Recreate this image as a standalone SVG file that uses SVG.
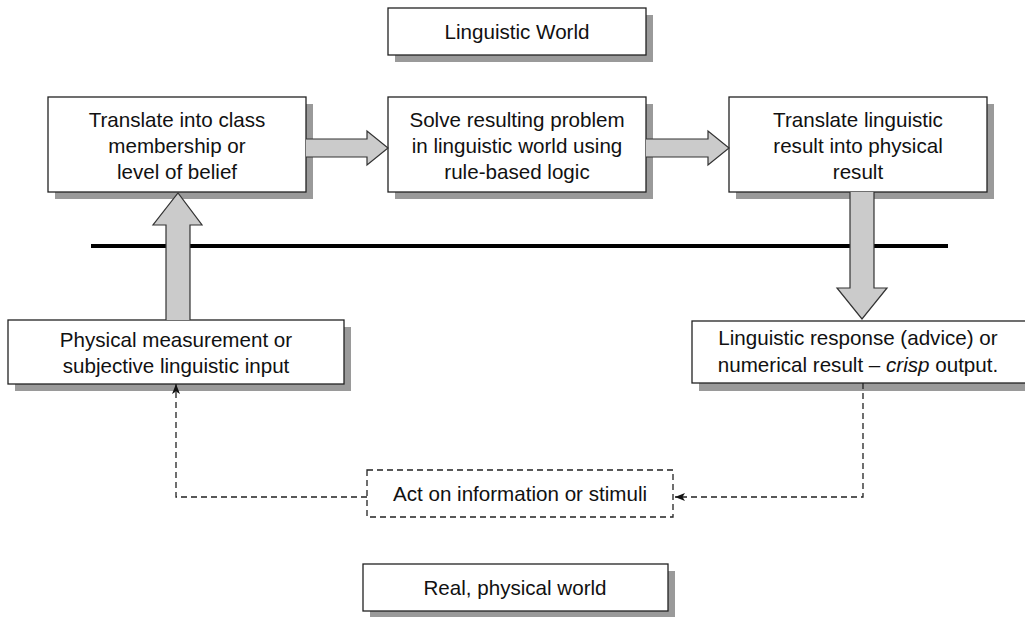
<svg xmlns="http://www.w3.org/2000/svg" width="1025" height="617" viewBox="0 0 1025 617">
<style>
.shadow{fill:#9a9a9a;stroke:none}
.box{fill:#fff;stroke:#222;stroke-width:1.3}
.dbox{fill:#fff;stroke:#222;stroke-width:1.3;stroke-dasharray:6 4}
.t{font-family:"Liberation Sans",Arial,sans-serif;font-size:20.6px;fill:#111;text-anchor:middle}
.fat{fill:#cbcbcb;stroke:#333;stroke-width:1.2;stroke-linejoin:miter}
.dash{fill:none;stroke:#222;stroke-width:1.3;stroke-dasharray:6 4}
</style>
<defs>
<marker id="ah" viewBox="0 0 10 8" refX="10" refY="4" markerWidth="10" markerHeight="8" markerUnits="userSpaceOnUse" orient="auto">
<path d="M0,0 L10,4 L0,8 L2.5,4 z" fill="#111"/>
</marker>
</defs>
<rect width="1025" height="617" fill="#fff"/>

<line x1="91" y1="246" x2="948" y2="246" stroke="#000" stroke-width="4"/>

<g id="linguistic-world">
<rect class="shadow" x="395" y="15" width="258" height="47"/>
<rect class="box" x="388" y="8" width="258" height="47"/>
<text class="t" x="517" y="39">Linguistic World</text>
</g>

<g id="translate-class">
<rect class="shadow" x="55" y="104" width="258" height="95"/>
<rect class="box" x="48" y="97" width="258" height="95"/>
<text class="t" x="177" y="127">Translate into class</text>
<text class="t" x="177" y="153">membership or</text>
<text class="t" x="177" y="179">level of belief</text>
</g>

<g id="solve-problem">
<rect class="shadow" x="395" y="104" width="258" height="95"/>
<rect class="box" x="388" y="97" width="258" height="95"/>
<text class="t" x="517" y="127">Solve resulting problem</text>
<text class="t" x="517" y="153">in linguistic world using</text>
<text class="t" x="517" y="179">rule-based logic</text>
</g>

<g id="translate-linguistic">
<rect class="shadow" x="736" y="104" width="258" height="95"/>
<rect class="box" x="729" y="97" width="258" height="95"/>
<text class="t" x="858" y="127">Translate linguistic</text>
<text class="t" x="858" y="153">result into physical</text>
<text class="t" x="858" y="179">result</text>
</g>

<g id="physical-measurement">
<rect class="shadow" x="15" y="327" width="336" height="64"/>
<rect class="box" x="8" y="320" width="336" height="64"/>
<text class="t" x="176" y="347">Physical measurement or</text>
<text class="t" x="176" y="373">subjective linguistic input</text>
</g>

<g id="linguistic-response">
<rect class="shadow" x="699" y="328" width="340" height="63"/>
<rect class="box" x="692" y="321" width="345" height="62"/>
<text class="t" x="858" y="345">Linguistic response (advice) or</text>
<text class="t" x="858" y="372">numerical result – <tspan font-style="italic">crisp</tspan> output.</text>
</g>

<g id="act-on-information">
<rect class="dbox" x="367" y="470" width="306" height="47"/>
<text class="t" x="520" y="501">Act on information or stimuli</text>
</g>

<g id="real-world">
<rect class="shadow" x="370" y="571" width="305" height="47"/>
<rect class="box" x="363" y="564" width="305" height="47"/>
<text class="t" x="515" y="595">Real, physical world</text>
</g>

<g id="connectors">
<path class="fat" d="M306,139 L367,139 L367,131 L388,148 L367,165 L367,157 L306,157"/>
<path class="fat" d="M646,139 L708,139 L708,131 L729,148 L708,165 L708,157 L646,157"/>
<path class="fat" d="M166,320 L166,225 L153,225 L178,193 L202,225 L190,225 L190,320"/>
<path class="fat" d="M850,192 L850,288 L837,288 L862,319 L887,288 L874,288 L874,192"/>
<path class="dash" d="M863,383 L863,497 L675,497" marker-end="url(#ah)"/>
<path class="dash" d="M367,497 L176,497 L176,384" marker-end="url(#ah)"/>
</g>
</svg>
